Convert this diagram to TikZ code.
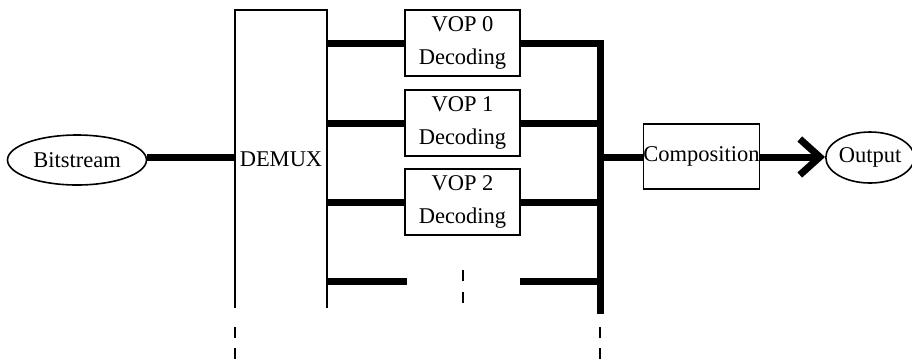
\documentclass[tikz,border=0pt]{standalone}
\usepackage{fontspec}
\setmainfont{Liberation Serif}
\usetikzlibrary{arrows.meta,shapes.geometric}
\begin{document}
\begin{tikzpicture}[x=1pt,y=-1pt,
  every node/.style={font=\fontsize{22.5}{33}\selectfont, inner sep=0pt},
  thin line/.style={line width=1.6pt},
  bus/.style={line width=7pt},
  box/.style={draw, thin line, minimum width=115pt, minimum height=66pt, align=center},
  oval/.style={draw, thin line, ellipse, minimum width=139pt, minimum height=50pt},
  gap/.style={thin line, dash pattern=on 11pt off 10pt}]
\useasboundingbox (0,0) rectangle (912,360);

% source and sink
\node[oval] (bits) at (77,160) {Bitstream};
\node[oval, minimum width=84pt, minimum height=51pt] (out) at (870,157.5) {Output};

% demultiplexer (open at the bottom)
\node[minimum width=92pt, minimum height=298pt] (demux) at (281,159) {DEMUX};
\draw[thin line] (demux.south west) -- (demux.north west) -- (demux.north east) -- (demux.south east);
\draw[gap] (demux.south west) ++(0,19) -- ++(0,40);
\coordinate (dx) at (demux.east);

% decoders
\node[box] (vop0) at (462.5,43) {VOP 0\\Decoding};
\node[box] (vop1) at (462.5,123) {VOP 1\\Decoding};
\node[box] (vop2) at (462.5,202) {VOP 2\\Decoding};

% collecting bus
\coordinate (btop) at (600,43);
\coordinate (bbot) at (600,314);
\coordinate (b1) at (600,123);
\coordinate (b2) at (600,202);
\coordinate (b3) at (600,281);
\coordinate (bmid) at (600,157);
\draw[bus, line join=miter] (vop0.east) -- (btop) -- (bbot);
\draw[gap] (600,327) -- (600,360);

% demux outputs
\draw[bus] (bits.east |- 0,157) -- (demux.west |- 0,157);
\draw[bus] (vop0.west -| dx) -- (vop0.west);
\draw[bus] (vop1.west -| dx) -- (vop1.west);
\draw[bus] (vop2.west -| dx) -- (vop2.west);
\draw[bus] (vop1.east) -- (b1);
\draw[bus] (vop2.east) -- (b2);

% further decoders, elided
\coordinate (l3) at (407,281);
\coordinate (r3) at (520,281);
\draw[bus] (dx |- l3) -- (l3);
\draw[bus] (r3) -- (b3);
\draw[thin line, dash pattern=on 11pt off 11pt] (463,270) -- (463,303);

% composition and output
\node[box, minimum height=65pt] (comp) at (701.5,156.5) {Composition};
\draw[bus] (bmid) -- (comp.west |- bmid);
\draw[bus, -{Straight Barb[length=20pt, width=36pt]}] (comp.east |- bmid) -- (out.west |- bmid);
\end{tikzpicture}
\end{document}
